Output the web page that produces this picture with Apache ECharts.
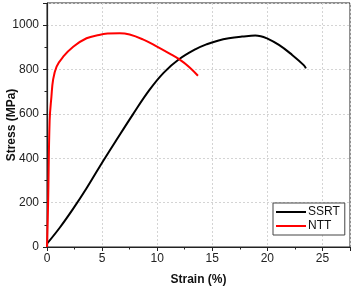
<!DOCTYPE html>
<html>
<head>
<meta charset="utf-8">
<script src="https://cdn.jsdelivr.net/npm/echarts@6/dist/echarts.min.js"></script>
<style>
html, body { margin: 0; padding: 0; background: #fff; }
#chart { width: 354px; height: 288px; }
</style>
</head>
<body>
<div id="chart"></div>
<script>
// SSRT curve (black)
var ssrtStrain = [0, 1.17, 2.38, 3.59, 4.79, 6.3, 7.8, 9.3, 10.6, 11.95, 13.5, 14.5, 15.5, 16.5, 17.7, 18.3, 18.9, 19.4, 19.85, 21.05, 22.25, 23.3, 23.5];
var ssrtStress = [15, 88, 173, 265, 363, 482, 598, 708, 786, 845, 892, 914, 930, 941, 949, 951, 953, 950, 943, 911, 866, 820, 805];

// NTT curve (red)
var nttStrain = [0, 0.1, 0.24, 0.4, 0.55, 0.87, 1.47, 2.38, 3.59, 4.73, 5.5, 6.6, 7.5, 8.7, 9.9, 11.1, 11.95, 12.9, 13.7];
var nttStress = [0, 197, 571, 677, 753, 813, 858, 903, 941, 956, 962, 964, 958, 936, 906, 873, 848, 812, 772];

function pairs(xs, ys) {
    var out = [];
    for (var i = 0; i < xs.length; i++) {
        out.push([xs[i], ys[i]]);
    }
    return out;
}

var font = 'Liberation Sans, Arial, sans-serif';

var option = {
    backgroundColor: '#fff',
    animation: false,
    grid: {
        left: 47, right: 4, top: 3, bottom: 41,
        containLabel: false,
        outerBoundsMode: 'none',
        show: true,
        borderColor: '#222',
        borderWidth: 1
    },
    legend: {
        left: 273,
        top: 203,
        orient: 'vertical',
        backgroundColor: '#fff',
        borderColor: '#444',
        borderWidth: 1,
        borderRadius: 0,
        padding: [3, 5, 3, 3],
        itemGap: 2,
        itemWidth: 30,
        itemHeight: 2,
        icon: 'rect',
        textStyle: { fontFamily: font, fontSize: 12, color: '#111', padding: [0, 0, 0, -3] },
        data: ['SSRT', 'NTT']
    },
    xAxis: {
        type: 'value',
        min: 0,
        max: 27.5,
        interval: 5,
        name: 'Strain (%)',
        nameLocation: 'middle',
        nameGap: 27,
        nameMoveOverlap: false,
        nameTextStyle: { fontFamily: font, fontSize: 12, fontWeight: 'bold', color: '#111' },
        axisLine: { show: true, onZero: false, lineStyle: { color: '#222', width: 1.2 } },
        axisTick: { show: true, inside: false, length: 4, lineStyle: { color: '#222' } },
        minorTick: { show: true, splitNumber: 2, length: 2.5, lineStyle: { color: '#222' } },
        axisLabel: { fontFamily: font, fontSize: 12, color: '#222', margin: 6, showMaxLabel: false },
        splitLine: { show: true, lineStyle: { color: '#d4d4d4', type: [2, 2], width: 1 } }
    },
    yAxis: {
        type: 'value',
        min: 0,
        max: 1100,
        interval: 200,
        name: 'Stress (MPa)',
        nameLocation: 'middle',
        nameGap: 29,
        nameMoveOverlap: false,
        nameTextStyle: { fontFamily: font, fontSize: 12, fontWeight: 'bold', color: '#111' },
        axisLine: { show: true, onZero: false, lineStyle: { color: '#222', width: 1.2 } },
        axisTick: { show: true, inside: false, length: 4, lineStyle: { color: '#222' } },
        minorTick: { show: true, splitNumber: 2, length: 2.5, lineStyle: { color: '#222' } },
        axisLabel: {
            fontFamily: font, fontSize: 12, color: '#222', margin: 8, showMaxLabel: false,
            formatter: function (v) { return String(v); }
        },
        splitLine: { show: true, lineStyle: { color: '#d4d4d4', type: [2, 2], width: 1 } }
    },
    series: [
        {
            name: 'SSRT',
            type: 'line',
            data: pairs(ssrtStrain, ssrtStress),
            smooth: 0.4,
            showSymbol: false,
            symbol: 'none',
            color: '#000',
            lineStyle: { color: '#000', width: 2 }
        },
        {
            name: 'NTT',
            type: 'line',
            data: pairs(nttStrain, nttStress),
            smooth: 0.4,
            showSymbol: false,
            symbol: 'none',
            color: '#ff0000',
            lineStyle: { color: '#ff0000', width: 2 }
        }
    ]
};

var myChart = echarts.init(document.getElementById('chart'), null, { renderer: 'canvas' });
myChart.setOption(option);
</script>
</body>
</html>
